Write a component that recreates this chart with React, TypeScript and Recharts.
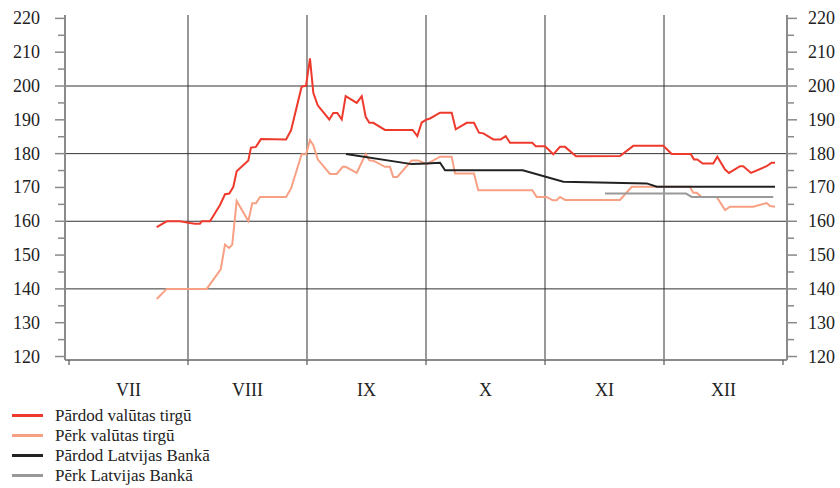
import React from 'react';
import { LineChart, Line, XAxis, YAxis, ReferenceLine } from 'recharts';

// x positions are in months from 1 July (0 = start of VII, 6 = end of XII)
const MONTHS = ['VII', 'VIII', 'IX', 'X', 'XI', 'XII'];
const X_TICKS = [0, 0.5, 1, 1.5, 2, 2.5, 3, 3.5, 4, 4.5, 5, 5.5, 6];
const Y_TICKS = [120, 125, 130, 135, 140, 145, 150, 155, 160, 165, 170, 175, 180, 185, 190, 195, 200, 205, 210, 215, 220];
const H_GRID = [140, 160, 180, 200];
const V_GRID = [1, 2, 3, 4, 5];

const sellMarketX = [0.737, 0.821, 0.933, 1.017, 1.059, 1.101, 1.115, 1.185, 1.269, 1.311, 1.347, 1.381, 1.409, 1.507, 1.529, 1.571, 1.613, 1.824, 1.866, 1.955, 1.992, 2.025, 2.053, 2.09, 2.187, 2.221, 2.255, 2.292, 2.325, 2.418, 2.46, 2.493, 2.524, 2.557, 2.655, 2.888, 2.927, 2.964, 3.006, 3.034, 3.118, 3.216, 3.25, 3.342, 3.403, 3.445, 3.482, 3.566, 3.628, 3.67, 3.706, 3.893, 3.922, 4.0, 4.07, 4.126, 4.168, 4.261, 4.63, 4.742, 4.994, 5.065, 5.224, 5.252, 5.28, 5.325, 5.414, 5.448, 5.513, 5.546, 5.639, 5.666, 5.731, 5.863, 5.905, 5.933];
const sellMarketY = [158.3, 160, 160, 159.5, 159.3, 159.3, 160, 160, 164.8, 168, 168.2, 170.2, 174.8, 178, 181.8, 182, 184.3, 184.2, 186.9, 199.8, 200.1, 208.2, 198, 194.3, 190.1, 192, 192, 190.1, 197, 195, 197, 190.9, 189.1, 189.1, 187, 187, 185.2, 189.2, 190.1, 190.4, 192.1, 192.1, 187.2, 189.1, 189.1, 186.2, 186, 184.2, 184.2, 185.2, 183.2, 183.2, 182.2, 182.2, 179.8, 182, 182, 179.2, 179.3, 182.3, 182.3, 179.9, 179.9, 178.3, 178.3, 177.1, 177.1, 179.1, 175.3, 174.3, 176.3, 176.3, 174.3, 176.3, 177.3, 177.3];

const buyMarketX = [0.737, 0.821, 1.157, 1.275, 1.311, 1.345, 1.372, 1.409, 1.507, 1.54, 1.571, 1.605, 1.824, 1.866, 1.955, 1.992, 2.025, 2.053, 2.09, 2.193, 2.25, 2.3, 2.325, 2.418, 2.493, 2.524, 2.557, 2.655, 2.697, 2.725, 2.759, 2.88, 2.935, 3.006, 3.118, 3.216, 3.244, 3.403, 3.439, 3.893, 3.93, 4.014, 4.065, 4.098, 4.126, 4.168, 4.63, 4.729, 5.218, 5.246, 5.275, 5.317, 5.443, 5.513, 5.555, 5.75, 5.863, 5.891, 5.933];
const buyMarketY = [137, 140, 140, 145.8, 153.1, 152.1, 153.1, 166, 160.1, 165.3, 165.3, 167.2, 167.2, 169.7, 179.8, 179.8, 184, 182.5, 178.3, 174, 174, 176.1, 176.1, 174.3, 179.9, 178, 177.9, 176.1, 176.1, 173.1, 173.1, 178, 178, 176.9, 179.1, 179.1, 174.1, 174.1, 169.2, 169.2, 167.2, 167.2, 166.2, 166.2, 167.2, 166.3, 166.3, 170.2, 170.2, 168.4, 168.4, 167.2, 167.2, 163.3, 164.3, 164.3, 165.4, 164.5, 164.3];

const sellBankX = [2.328, 2.88, 3.006, 3.118, 3.16, 3.813, 4.154, 4.855, 4.939, 5.933];
const sellBankY = [179.9, 176.9, 177.1, 177.3, 175.1, 175.1, 171.7, 171.2, 170.2, 170.2];

const buyBankX = [4.504, 5.185, 5.233, 5.918];
const buyBankY = [168.2, 168.2, 167.2, 167.2];

const SERIES_NAMES = ['Pārdod valūtas tirgū', 'Pērk valūtas tirgū', 'Pārdod Latvijas Bankā', 'Pērk Latvijas Bankā'];
const SERIES_COLORS = ['#ee3a2c', '#f7a084', '#222222', '#999999'];

const toData = (xs: number[], ys: number[]) => xs.map((x, i) => ({ x, y: ys[i] }));
const seriesData = [
  toData(sellMarketX, sellMarketY),
  toData(buyMarketX, buyMarketY),
  toData(sellBankX, sellBankY),
  toData(buyBankX, buyBankY),
];

const FONT = '"Liberation Serif", "Times New Roman", serif';
const AXIS = '#8a8a8a';
const GRID = '#333333';

const LeftTick = (props: any) => {
  const { x, y, payload } = props;
  const v = payload.value;
  const major = v % 10 === 0;
  return (
    <g>
      <line x1={x} x2={x - (major ? 10 : 7)} y1={y} y2={y} stroke={AXIS} strokeWidth={1.5} />
      {major && (
        <text x={x - 25} y={y} dy={6} textAnchor="end" fontFamily={FONT} fontSize={18} fill="#222">
          {v}
        </text>
      )}
    </g>
  );
};

const RightTick = (props: any) => {
  const { x, y, payload } = props;
  const v = payload.value;
  const major = v % 10 === 0;
  return (
    <g>
      <line x1={x} x2={x + (major ? 10 : 7)} y1={y} y2={y} stroke={AXIS} strokeWidth={1.5} />
      {major && (
        <text x={x + 21} y={y} dy={6} textAnchor="start" fontFamily={FONT} fontSize={18} fill="#222">
          {v}
        </text>
      )}
    </g>
  );
};

const BottomTick = (props: any) => {
  const { x, y, payload } = props;
  const v = payload.value;
  if (Number.isInteger(v)) {
    return <line x1={x} x2={x} y1={y} y2={y + 5} stroke="#555" strokeWidth={1.2} />;
  }
  return (
    <text x={x} y={y + 36} textAnchor="middle" fontFamily={FONT} fontSize={18} fill="#222">
      {MONTHS[Math.floor(v)]}
    </text>
  );
};

const LegendBox = () => (
  <svg width={320} height={88} style={{ position: 'absolute', left: 0, top: 400 }}>
    {SERIES_NAMES.map((name, i) => {
      const cy = 15.5 + i * 20;
      return (
        <g key={name}>
          <line x1={12} x2={43} y1={cy} y2={cy} stroke={SERIES_COLORS[i]} strokeWidth={3} />
          <text x={55} y={cy + 5.5} fontFamily={FONT} fontSize={17} fill="#222">
            {name}
          </text>
        </g>
      );
    })}
  </svg>
);

export default function App() {
  return (
    <div style={{ position: 'absolute', left: 0, top: 0, width: 840, height: 488, background: '#fff' }}>
      <LineChart width={840} height={488} margin={{ top: 15, right: 0, bottom: 88, left: 0 }}>
        <XAxis
          xAxisId="main"
          dataKey="x"
          type="number"
          domain={[-0.0336, 6.0336]}
          ticks={X_TICKS}
          interval={0}
          height={40}
          tickSize={0}
          tickMargin={0}
          tickLine={false}
          axisLine={{ stroke: AXIS, strokeWidth: 2 }}
          tick={<BottomTick />}
          allowDataOverflow
        />
        <XAxis
          xAxisId="top"
          orientation="top"
          type="number"
          domain={[-0.0336, 6.0336]}
          height={0}
          tick={false}
          tickLine={false}
          axisLine={{ stroke: AXIS, strokeWidth: 1.5 }}
        />
        <YAxis
          yAxisId="left"
          type="number"
          domain={[118.97, 221.0]}
          ticks={Y_TICKS}
          interval={0}
          width={65}
          tickSize={0}
          tickMargin={0}
          tickLine={false}
          axisLine={{ stroke: AXIS, strokeWidth: 2 }}
          tick={<LeftTick />}
          allowDataOverflow
        />
        <YAxis
          yAxisId="right"
          orientation="right"
          type="number"
          domain={[118.97, 221.0]}
          ticks={Y_TICKS}
          interval={0}
          width={53}
          tickSize={0}
          tickMargin={0}
          tickLine={false}
          axisLine={{ stroke: AXIS, strokeWidth: 2 }}
          tick={<RightTick />}
          allowDataOverflow
        />
        {H_GRID.map((v) => (
          <ReferenceLine key={'h' + v} xAxisId="main" yAxisId="left" y={v} stroke={GRID} strokeWidth={1} />
        ))}
        {V_GRID.map((v) => (
          <ReferenceLine key={'v' + v} xAxisId="main" yAxisId="left" x={v} stroke={GRID} strokeWidth={1} />
        ))}
        {seriesData.map((d, i) => (
          <Line
            key={SERIES_NAMES[i]}
            xAxisId="main"
            yAxisId={i === 3 ? 'right' : 'left'}
            data={d}
            dataKey="y"
            name={SERIES_NAMES[i]}
            type="linear"
            stroke={SERIES_COLORS[i]}
            strokeWidth={2}
            dot={false}
            activeDot={false}
            isAnimationActive={false}
          />
        ))}
      </LineChart>
      <LegendBox />
    </div>
  );
}
